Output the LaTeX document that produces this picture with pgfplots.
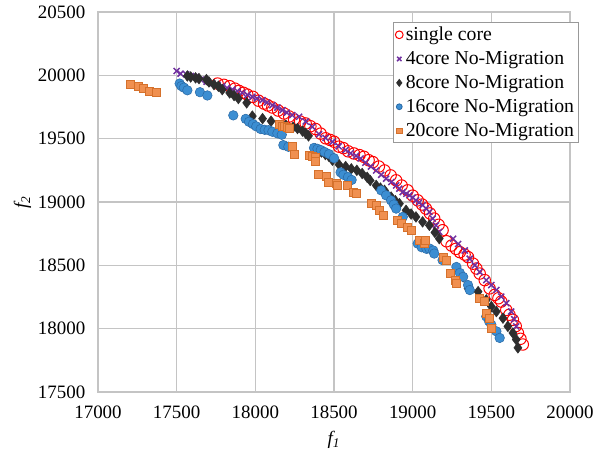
\documentclass[border=0pt]{standalone}
\usepackage{fontspec}
\setmainfont{Liberation Serif}
\usepackage{pgfplots}
\pgfplotsset{compat=1.18}
\definecolor{gridgray}{HTML}{C4C4C4}
\definecolor{scRed}{HTML}{FF0000}
\definecolor{fourPurple}{HTML}{7030A0}
\definecolor{eightBlack}{HTML}{2E2E2E}
\definecolor{sixteenBlue}{HTML}{3C8ED2}
\definecolor{sixteenEdge}{HTML}{2A6AA6}
\definecolor{twentyOrange}{HTML}{ED7D31}

\begin{document}
\begin{tikzpicture}
\begin{axis}[
  scale only axis, width=354pt, height=285pt,
  xmin=17000, xmax=20000, ymin=17500, ymax=20500,
  xtick={17000,17500,...,20000}, ytick={17500,18000,...,20500},
  scaled ticks=false, major tick length=0pt,
  axis line style={gridgray, line width=0.8pt},
  grid=major, grid style={gridgray, line width=0.8pt},
  tick label style={font=\fontsize{14.2}{16}\selectfont, black},
  /pgf/number format/assume math mode=true,
  /pgf/number format/set thousands separator={},
  xticklabel style={yshift=-7pt},
  yticklabel style={xshift=-6pt},
  xlabel={\itshape f\textsubscript{1}},
  ylabel={\itshape f\textsubscript{2}},
  label style={font=\fontsize{14.2}{16}\selectfont},
  xlabel style={at={(axis description cs:0.5,-0.125)}, anchor=center},
  ylabel style={at={(axis description cs:-0.16,0.5)}, anchor=center},
  legend cell align=left,
  legend style={at={(0.625,0.974)}, anchor=north west, draw=gray!80, line width=0.6pt,
    font=\fontsize{14.8}{17}\selectfont, inner sep=1.5pt, row sep=2.6pt,
    /tikz/every even column/.append style={column sep=1pt}},
]
\addplot[only marks, mark=o, mark size=4.3pt, color=scRed, mark options={line width=0.75pt},
  legend image post style={mark size=2.9pt}] coordinates {
  (17760,19935) (17800,19925) (17837,19914) (17870,19895) (17896,19877) (17925,19862)
  (17949,19848) (17985,19830) (18020,19800) (18055,19777) (18080,19762) (18108,19746)
  (18145,19722) (18182,19699) (18215,19675) (18246,19652) (18285,19635) (18320,19620)
  (18350,19598) (18383,19576) (18415,19540) (18447,19503) (18475,19490) (18500,19476)
  (18532,19437) (18560,19425) (18590,19400) (18627,19383) (18662,19370) (18690,19357)
  (18720,19330) (18747,19315) (18785,19280) (18821,19249) (18860,19210) (18895,19171)
  (18930,19130) (18968,19092) (19000,19050) (19032,19013) (19060,18980) (19084,18948)
  (19110,18910) (19137,18869) (19165,18820) (19190,18777) (19215,18690) (19247,18656)
  (19275,18630) (19300,18604) (19330,18585) (19352,18565) (19384,18513) (19405,18475)
  (19426,18435) (19458,18383) (19489,18318) (19521,18266) (19545,18240) (19563,18214)
  (19595,18148) (19615,18110) (19637,18070) (19655,18020) (19669,17966) (19685,17920)
  (19700,17875)};
\addlegendentry{single core}
\addplot[only marks, mark=x, mark size=3.2pt, color=fourPurple, mark options={line width=1.1pt},
  legend image post style={mark size=2.3pt}] coordinates {
  (17500,20034) (17525,20013) (17561,20008) (17590,19995) (17621,19987) (17653,19966)
  (17690,19950) (17727,19935) (17760,19925) (17790,19914) (17820,19900) (17854,19887)
  (17885,19875) (17917,19861) (17950,19845) (17981,19830) (18010,19818) (18045,19804)
  (18075,19785) (18108,19764) (18140,19745) (18172,19725) (18200,19705) (18235,19686)
  (18278,19673) (18320,19635) (18362,19594) (18405,19535) (18447,19505) (18490,19475)
  (18530,19440) (18574,19410) (18606,19385) (18640,19365) (18669,19343) (18700,19310)
  (18735,19280) (18768,19249) (18800,19215) (18831,19184) (18865,19158) (18895,19131)
  (18915,19105) (18937,19079) (18960,19065) (18979,19053) (19000,19035) (19021,19013)
  (19040,18995) (19063,18974) (19085,18950) (19106,18921) (19127,18869) (19148,18816)
  (19169,18764) (19257,18710) (19289,18669) (19331,18617) (19363,18552) (19395,18500)
  (19426,18448) (19468,18383) (19500,18344) (19532,18305) (19563,18253) (19595,18201)
  (19626,18135) (19645,18075) (19658,18018)};
\addlegendentry{4core No-Migration}
\addplot[only marks, mark=diamond*, mark size=4pt, color=eightBlack,
  legend image post style={mark size=2.6pt}] coordinates {
  (17568,19995) (17589,19987) (17620,19980) (17642,19974) (17689,19966) (17705,19948)
  (17737,19927) (17765,19914) (17790,19887) (17837,19861) (17865,19840) (17892,19817)
  (17945,19783) (17981,19678) (18046,19658) (18100,19638) (18194,19606) (18240,19590)
  (18268,19580) (18300,19560) (18321,19541) (18338,19522) (18380,19420) (18420,19395)
  (18445,19375) (18468,19360) (18490,19330) (18532,19295) (18574,19280) (18610,19262)
  (18645,19250) (18679,19225) (18711,19195) (18730,19170) (18768,19131) (18795,19110)
  (18821,19092) (18863,19039) (18890,19010) (18916,18987) (18958,18934) (18990,18905)
  (19021,18882) (19063,18843) (19106,18816) (19141,18760) (19169,18711) (19321,18409)
  (19352,18318) (19416,18292) (19468,18227) (19500,18175) (19532,18135) (19574,18083)
  (19605,18018) (19637,17966) (19658,17914) (19669,17849)};
\addlegendentry{8core No-Migration}
\addplot[only marks, mark=*, mark size=3.6pt, draw=sixteenEdge, fill=sixteenBlue,
  legend image post style={mark size=2.2pt}] coordinates {
  (17519,19935) (17530,19915) (17546,19903) (17568,19882) (17648,19867) (17695,19841)
  (17860,19684) (17939,19656) (17960,19633) (17985,19615) (18006,19597) (18034,19576)
  (18060,19570) (18084,19567) (18108,19555) (18140,19542) (18168,19531) (18178,19449)
  (18210,19436) (18373,19427) (18395,19420) (18416,19410) (18440,19395) (18468,19378)
  (18500,19346) (18542,19234) (18560,19215) (18589,19197) (18612,19174) (18800,19092)
  (18831,19053) (18863,19013) (18880,18980) (18895,18948) (18937,18882) (19032,18672)
  (19057,18643) (19088,18630) (19106,18633) (19131,18617) (19137,18593) (19190,18541)
  (19278,18487) (19300,18440) (19321,18409) (19352,18344) (19363,18305) (19468,18096)
  (19485,18060) (19500,18031) (19532,17979) (19553,17927)};
\addlegendentry{16core No-Migration}
\addplot[only marks, mark=square*, mark size=3pt, draw=twentyOrange!90!black, fill=twentyOrange!85!white,
  legend image post style={mark size=2pt}] coordinates {
  (17208,19927) (17256,19916) (17288,19901) (17328,19877) (17371,19864) (18152,19612)
  (18170,19600) (18184,19601) (18200,19590) (18215,19580) (18236,19437) (18250,19380)
  (18345,19369) (18365,19360) (18380,19350) (18384,19320) (18401,19220) (18452,19207)
  (18465,19155) (18515,19144) (18522,19134) (18585,19130) (18620,19079) (18641,19066)
  (18736,18987) (18768,18974) (18789,18934) (18810,18895) (18905,18856) (18926,18829)
  (18968,18803) (18989,18777) (19042,18698) (19074,18672) (19078,18695) (19194,18565)
  (19215,18539) (19236,18435) (19268,18383) (19278,18357) (19426,18240) (19458,18214)
  (19468,18122) (19489,18083) (19500,18005)};
\addlegendentry{20core No-Migration}
\end{axis}
\pgfresetboundingbox
\path[use as bounding box] ([shift={(-73.5pt,-45.75pt)}]current axis.south west)
  rectangle ([shift={(30pt,9pt)}]current axis.north east);
\end{tikzpicture}
\end{document}
